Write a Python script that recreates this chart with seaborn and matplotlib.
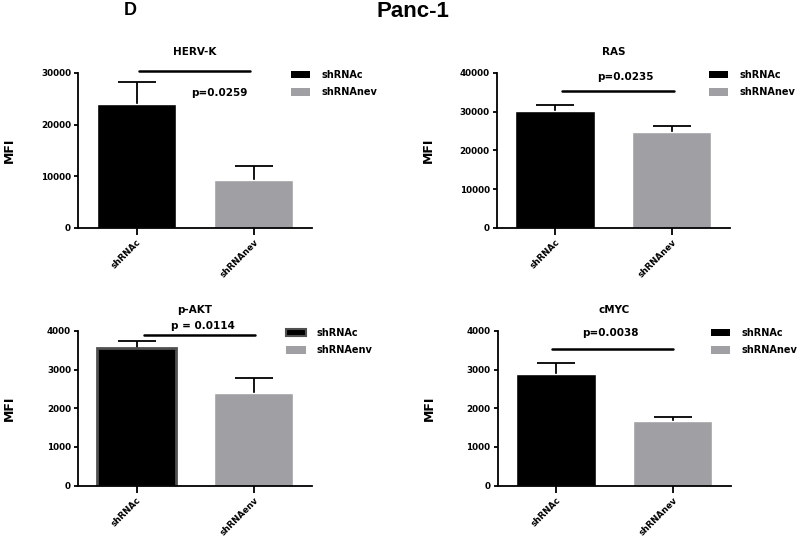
import numpy as np
import pandas as pd
import matplotlib
matplotlib.use('Agg')
import matplotlib.pyplot as plt
from matplotlib.patches import Patch
import seaborn as sns

sns.set_style('ticks')
plt.rcParams['font.family'] = ['DejaVu Sans']
plt.rcParams['font.weight'] = 'bold'
for k in ['text.color', 'axes.labelcolor', 'xtick.color', 'ytick.color', 'axes.edgecolor']:
    plt.rcParams[k] = 'black'

# values (mean MFI and error)
groups = ['shRNAc', 'shRNAnev']
groups_akt = ['shRNAc', 'shRNAenv']
titles = ['HERV-K', 'RAS', 'p-AKT', 'cMYC']
means = [[24000, 9300], [30200, 24700], [3550, 2390], [2880, 1680]]
errs = [[4200, 2750], [1600, 1600], [180, 400], [290, 100]]
ymax = [30000, 40000, 4000, 4000]
ystep = [10000, 10000, 1000, 1000]
pvals = ['p=0.0259', 'p=0.0235', 'p = 0.0114', 'p=0.0038']
# significance bar height and p-text position (data units)
sig_y = [30400, 35400, 3890, 3530]
sig_x = [(0.02, 0.97), (0.06, 1.02), (0.06, 1.01), (-0.03, 1.0)]
ptxt = [(0.71, 26100), (0.60, 38950), (0.57, 4140), (0.47, 3940)]
leg_x = [0.91, 0.91, 0.89, 0.915]

colors = ['#000000', '#a0a0a4']

fig = plt.figure(figsize=(8, 5.4), dpi=100)
boxes = [[0.0975, 0.578, 0.2925, 0.287],
         [0.621, 0.578, 0.2915, 0.287],
         [0.0975, 0.1006, 0.2925, 0.2865],
         [0.622, 0.1006, 0.2915, 0.2865]]

for i in range(4):
    ax = fig.add_axes(boxes[i])
    labels = groups_akt if i == 2 else groups
    df = pd.DataFrame({'group': labels, 'mfi': means[i]})
    # error bars behind the bars so only the upper half shows
    ax.errorbar([0, 1], means[i], yerr=errs[i], fmt='none',
                ecolor='black', elinewidth=1.3, capsize=14, capthick=1.3, zorder=0.5)
    sns.barplot(data=df, x='group', y='mfi', hue='group', palette=colors,
                width=0.68, ax=ax, legend=False, errorbar=None, saturation=1)
    for p in ax.patches:
        p.set_zorder(2)
    if i == 2:
        ax.patches[0].set_edgecolor('#505050')
        ax.patches[0].set_linewidth(2)

    ax.set_xlim(-0.5, 1.5)
    ax.set_ylim(0, ymax[i])
    ax.set_yticks(np.arange(0, ymax[i] + 1, ystep[i]))
    ax.set_xlabel('')
    ax.set_ylabel('MFI', fontsize=9, fontweight='bold')
    ax.yaxis.set_label_coords(-0.265, 0.5)
    ax.set_title(titles[i], fontsize=7.5, fontweight='bold', pad=13)
    sns.despine(ax=ax)
    for s in ['left', 'bottom']:
        ax.spines[s].set_linewidth(1.3)
    ax.tick_params(axis='y', labelsize=6.3, length=3, width=1.3, pad=2)
    ax.tick_params(axis='x', labelsize=6.3, length=5, width=1.3, pad=2)
    for lab in ax.get_xticklabels():
        lab.set_rotation(45)
        lab.set_ha('right')
        lab.set_rotation_mode('anchor')
        lab.set_fontweight('bold')
    for lab in ax.get_yticklabels():
        lab.set_fontweight('bold')

    ax.plot(sig_x[i], [sig_y[i], sig_y[i]], color='black', lw=1.8, clip_on=False)
    ax.text(ptxt[i][0], ptxt[i][1], pvals[i], ha='center', va='center',
            fontsize=7.5, fontweight='bold', clip_on=False)

    handles = [Patch(facecolor=colors[0], edgecolor='#505050' if i == 2 else colors[0],
                     linewidth=1.5 if i == 2 else 0),
               Patch(facecolor=colors[1], edgecolor=colors[1], linewidth=0)]
    ax.legend(handles, labels, loc='upper left', bbox_to_anchor=(leg_x[i], 1.02),
              frameon=False, handlelength=2.0, handleheight=0.85,
              handletextpad=1.1, labelspacing=0.75, borderpad=0, borderaxespad=0,
              prop={'weight': 'bold', 'size': 7})

fig.text(0.516, 0.978, 'Panc-1', ha='center', va='center', fontsize=16,
         fontweight='bold', family='Liberation Sans')
fig.text(0.1625, 0.981, 'D', ha='center', va='center', fontsize=13,
         fontweight='bold', family='Liberation Sans')

fig.savefig('out.png', dpi=100)
